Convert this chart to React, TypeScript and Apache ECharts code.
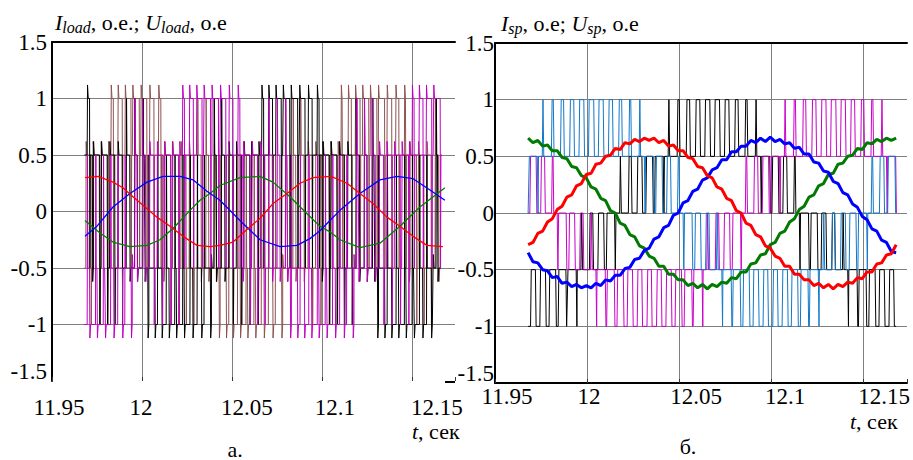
import React, { useEffect, useRef } from 'react';
import * as echarts from 'echarts';

// ---------------- axes ----------------
const X_MIN = 11.95;
const X_MAX = 12.1739;
const X_STEP = 0.05;
const X_TICK_LABELS = ['11.95', '12', '12.05', '12.1', '12.15'];
const Y_MIN = -1.5;
const Y_MAX = 1.5;
const Y_STEP = 0.5;

// ---------------- panel а: load currents, [t, value] ----------------
const loadRed = [
  [11.9683, 0.30], [11.9756, 0.31], [11.9839, 0.26], [11.9894, 0.21], [11.995, 0.13], [12.0017, 0.04],
  [12.0083, -0.05], [12.0156, -0.13], [12.0228, -0.22], [12.0306, -0.30], [12.0378, -0.31], [12.0433, -0.30],
  [12.0506, -0.27], [12.0583, -0.16], [12.0656, -0.06], [12.0728, 0.07], [12.0806, 0.16], [12.0878, 0.25],
  [12.095, 0.30], [12.105, 0.31], [12.1139, 0.25], [12.1211, 0.16], [12.1283, 0.07], [12.1361, -0.05],
  [12.1433, -0.13], [12.1506, -0.22], [12.1583, -0.30], [12.1672, -0.31],
];
const loadBlue = [
  [11.9683, -0.22], [11.975, -0.13], [11.9839, 0.04], [11.9933, 0.16], [12.0028, 0.26], [12.0117, 0.31],
  [12.0211, 0.31], [12.0283, 0.28], [12.0322, 0.23], [12.0361, 0.18], [12.0433, 0.10], [12.0544, -0.08],
  [12.0656, -0.25], [12.0767, -0.31], [12.0861, -0.30], [12.0933, -0.24], [12.0989, -0.17], [12.1044, -0.08],
  [12.11, 0.01], [12.1211, 0.16], [12.1322, 0.28], [12.1417, 0.31], [12.1506, 0.29], [12.16, 0.19], [12.1683, 0.10],
];
const loadGreen = [
  [11.9683, -0.08], [11.9767, -0.19], [11.9839, -0.27], [11.9933, -0.31], [12.0028, -0.30], [12.01, -0.25],
  [12.0172, -0.15], [12.0267, 0.01], [12.0322, 0.10], [12.0378, 0.16], [12.0433, 0.23], [12.0544, 0.30],
  [12.0656, 0.31], [12.0728, 0.26], [12.0822, 0.13], [12.0917, -0.02], [12.0989, -0.13], [12.1044, -0.18],
  [12.11, -0.25], [12.1211, -0.32], [12.1322, -0.28], [12.1433, -0.13], [12.1544, 0.04], [12.1683, 0.21],
];

// ---------------- panel а: load voltages, one entry per carrier period ----------------
const loadStart = 11.968;
const loadCarrier = 0.0044;
// zone code -> [lower level, upper level]
const loadLevels: Record<string, number[]> = { T: [0.5, 1], U: [-0.5, 0.5], L: [-0.5, 0.5], B: [-1, -0.5] };
// zone code -> [level briefly reached on the rising edge, on the falling edge]
const loadVia: Record<string, (number | null)[]> = { T: [null, -0.5], U: [null, -1], L: [1, null], B: [0.5, null] };
const loadBlackZones = 'TUUUULLLBBBBBBBBLLUUUUTTTTTTTTUUUULLLBBBBBBBL';
const loadBlackDuty = [
  0.3, 0.85, 0.75, 0.65, 0.55, 0.45, 0.35, 0.25, 0.8, 0.55, 0.35, 0.2, 0.2, 0.35, 0.55, 0.8,
  0.3, 0.42, 0.55, 0.65, 0.75, 0.85, 0.25, 0.5, 0.7, 0.85, 0.85, 0.7, 0.5, 0.25,
  0.85, 0.75, 0.65, 0.55, 0.45, 0.35, 0.25, 0.8, 0.55, 0.3, 0.2, 0.25, 0.4, 0.6, 0.2,
];
const loadBrownZones = 'UUUTTTTTTTUUUULLLBBBBBBBBLLLUUUUTTTTTTTTTUUUL';
const loadBrownDuty = [
  0.65, 0.75, 0.85, 0.3, 0.55, 0.75, 0.85, 0.75, 0.55, 0.3, 0.85, 0.75, 0.65, 0.55, 0.45, 0.35, 0.25,
  0.8, 0.55, 0.35, 0.2, 0.2, 0.35, 0.55, 0.8, 0.25, 0.35, 0.45, 0.55, 0.65, 0.75, 0.85,
  0.2, 0.4, 0.6, 0.8, 0.85, 0.8, 0.6, 0.4, 0.2, 0.85, 0.7, 0.55, 0.45,
];
const loadMagentaZones = 'BBBBBBLLUUUUTTTTTTTTUUULLLBBBBBBBBLLLUUUUTTTT';
const loadMagentaDuty = [
  0.3, 0.2, 0.25, 0.4, 0.6, 0.8, 0.3, 0.42, 0.55, 0.65, 0.75, 0.85,
  0.25, 0.5, 0.7, 0.85, 0.85, 0.7, 0.5, 0.25, 0.85, 0.7, 0.55, 0.45, 0.35, 0.25,
  0.8, 0.55, 0.35, 0.2, 0.2, 0.35, 0.55, 0.8, 0.25, 0.35, 0.45, 0.55, 0.65, 0.75, 0.85,
  0.25, 0.5, 0.7, 0.85,
];

// ---------------- panel б: converter currents, uniform samples ----------------
const spStart = 11.968;
const spSampleStep = 0.2 / 76;
const spRed = [
  -0.28, -0.26, -0.18, -0.16, -0.08, -0.05, 0.03, 0.06, 0.14, 0.16, 0.24, 0.26, 0.34, 0.35, 0.43, 0.44,
  0.50, 0.51, 0.57, 0.56, 0.62, 0.61, 0.65, 0.63, 0.66, 0.64, 0.66, 0.62, 0.64, 0.59, 0.60, 0.55, 0.55,
  0.49, 0.48, 0.41, 0.40, 0.33, 0.31, 0.23, 0.21, 0.13, 0.11, 0.02, 0.00, -0.09, -0.11, -0.19, -0.21,
  -0.29, -0.31, -0.38, -0.40, -0.47, -0.47, -0.54, -0.54, -0.59, -0.59, -0.64, -0.62, -0.66, -0.63,
  -0.67, -0.63, -0.65, -0.61, -0.62, -0.57, -0.58, -0.52, -0.52, -0.45, -0.44, -0.37, -0.36, -0.28,
];
const spBlue = [
  -0.35, -0.43, -0.44, -0.50, -0.51, -0.57, -0.56, -0.62, -0.61, -0.65, -0.63, -0.66, -0.64, -0.66,
  -0.62, -0.64, -0.59, -0.60, -0.55, -0.55, -0.49, -0.48, -0.41, -0.40, -0.33, -0.31, -0.23, -0.21,
  -0.13, -0.11, -0.02, 0.00, 0.09, 0.11, 0.19, 0.21, 0.29, 0.31, 0.38, 0.40, 0.47, 0.47, 0.54, 0.54,
  0.59, 0.59, 0.64, 0.62, 0.66, 0.63, 0.67, 0.63, 0.65, 0.61, 0.62, 0.57, 0.58, 0.52, 0.52, 0.45,
  0.44, 0.37, 0.36, 0.28, 0.26, 0.18, 0.16, 0.08, 0.05, -0.03, -0.06, -0.14, -0.16, -0.24, -0.26,
  -0.34, -0.35,
];
const spGreen = [
  0.66, 0.62, 0.64, 0.59, 0.60, 0.55, 0.55, 0.49, 0.48, 0.41, 0.40, 0.33, 0.31, 0.23, 0.21, 0.13, 0.11,
  0.02, 0.00, -0.09, -0.11, -0.19, -0.21, -0.29, -0.31, -0.38, -0.40, -0.47, -0.47, -0.54, -0.54, -0.59,
  -0.59, -0.64, -0.62, -0.66, -0.63, -0.67, -0.63, -0.65, -0.61, -0.62, -0.57, -0.58, -0.52, -0.52,
  -0.45, -0.44, -0.37, -0.36, -0.28, -0.26, -0.18, -0.16, -0.08, -0.05, 0.03, 0.06, 0.14, 0.16, 0.24,
  0.26, 0.34, 0.35, 0.43, 0.44, 0.50, 0.51, 0.57, 0.56, 0.62, 0.61, 0.65, 0.63, 0.66, 0.64, 0.66,
];

// ---------------- panel б: converter voltages, one entry per carrier period ----------------
const spCarrier = 0.2 / 38;
const spLevels: Record<string, number[]> = { T: [0.5, 1], P: [0, 0.5], N: [-0.5, 0], B: [-1, -0.5] };
const spVia: Record<string, (number | null)[]> = { T: [null, null], P: [null, null], N: [null, null], B: [null, null] };
const spBlueZones = 'PTTTTTTTTTTTPPPPNNNNBBBBBBBBBBNNNNNPPP';
const spBlueDuty = [
  0.9, 0.08, 0.2, 0.32, 0.42, 0.5, 0.54, 0.5, 0.42, 0.32, 0.2, 0.08, 0.9, 0.65, 0.4, 0.15,
  0.85, 0.6, 0.35, 0.1, 0.92, 0.78, 0.65, 0.55, 0.48, 0.48, 0.55, 0.65, 0.78, 0.92,
  0.1, 0.3, 0.5, 0.7, 0.9, 0.15, 0.45, 0.75,
];
const spBlackZones = 'BBBBBNNNNPPPPPTTTTTTTTTTPPPPNNNNNBBBBB';
const spBlackDuty = [
  0.5, 0.58, 0.68, 0.8, 0.92, 0.1, 0.35, 0.6, 0.85, 0.1, 0.3, 0.5, 0.7, 0.9,
  0.08, 0.22, 0.35, 0.45, 0.52, 0.52, 0.45, 0.35, 0.22, 0.08, 0.9, 0.65, 0.4, 0.15,
  0.9, 0.7, 0.5, 0.3, 0.1, 0.92, 0.78, 0.65, 0.55, 0.48,
];
const spMagentaZones = 'PPPNNNNBBBBBBBBBBBNNNNPPPPTTTTTTTTTTTP';
const spMagentaDuty = [
  0.65, 0.4, 0.15, 0.85, 0.6, 0.35, 0.1, 0.92, 0.78, 0.65, 0.55, 0.48, 0.45, 0.48, 0.55, 0.65, 0.78, 0.92,
  0.1, 0.35, 0.6, 0.85, 0.15, 0.4, 0.65, 0.9, 0.08, 0.2, 0.32, 0.42, 0.5, 0.54, 0.5, 0.42, 0.32, 0.2, 0.08, 0.9,
];

// ---------------- styles ----------------
const FONT = 'Liberation Serif';
const GRID_COLOR = '#7f7f7f';
const LEFT_LABEL_SHIFT = [7, -1, 15, 13, 25];
const RIGHT_LABEL_SHIFT = [12, 2, 17, 14, 21];

function pwmPoints(start: number, carrier: number, zones: string, duty: number[],
  levels: Record<string, number[]>, via: Record<string, (number | null)[]>, overshoot: number, edge: number) {
  const pts: number[][] = [];
  let cur = levels[zones[0]][0];
  pts.push([start, cur]);
  const step = (t: number, to: number, through: number | null) => {
    if (to === cur) return;
    const dir = to > cur ? 1 : -1;
    pts.push([t, cur]);
    if (through !== null) {
      pts.push([t + edge, through]);
      pts.push([t + edge * 2, to]);
      if (overshoot > 0) pts.push([t + edge * 4, to]);
    } else if (overshoot > 0) {
      pts.push([t + edge, to + overshoot * dir]);
      pts.push([t + edge * 3, to]);
    } else {
      pts.push([t + edge, to]);
    }
    cur = to;
  };
  for (let k = 0; k < zones.length; k++) {
    const z = zones[k];
    const [lo, hi] = levels[z];
    const [viaUp, viaDown] = via[z];
    const d = duty[k];
    const t0 = start + k * carrier;
    step(t0, lo, null);
    step(t0 + ((1 - d) / 2) * carrier, hi, viaUp);
    step(t0 + ((1 + d) / 2) * carrier, lo, viaDown);
  }
  pts.push([start + zones.length * carrier, cur]);
  return pts;
}

function sampled(values: number[]) {
  return values.map((v, i) => [spStart + i * spSampleStep, v]);
}

function xLabel(shifts: number[], margin: number) {
  const rich: Record<string, any> = {};
  shifts.forEach((s, i) => {
    rich['k' + i] = {
      fontFamily: FONT, fontSize: 23, color: '#000', lineHeight: 20,
      padding: s >= 0 ? [0, 0, 0, 2 * s] : [0, -2 * s, 0, 0],
    };
  });
  return {
    show: true,
    margin,
    fontFamily: FONT,
    fontSize: 23,
    lineHeight: 20,
    formatter: (v: number) => {
      const k = Math.round((v - X_MIN) / X_STEP);
      if (k < 0 || k >= X_TICK_LABELS.length || Math.abs(v - (X_MIN + X_STEP * k)) > 1e-6) return '';
      return `{k${k}|${X_TICK_LABELS[k]}}`;
    },
    rich,
  };
}

function yLabel(margin: number) {
  return {
    show: true, margin, fontFamily: FONT, fontSize: 23, color: '#000',
    formatter: (v: number) => (Math.abs(v - Y_MIN) < 1e-9 ? `{m|${v}}` : `{n|${v}}`),
    rich: {
      n: { fontFamily: FONT, fontSize: 23, color: '#000' },
      m: { fontFamily: FONT, fontSize: 23, color: '#000', padding: [0, 0, 20, 0] },
    },
  };
}

function line(data: number[][], color: string, width: number, xi: number, yi: number) {
  return {
    type: 'line', data, xAxisIndex: xi, yAxisIndex: yi, showSymbol: false, symbol: 'none',
    silent: true, lineStyle: { color, width }, itemStyle: { color }, animation: false,
  };
}

export default function App() {
  const ref = useRef<HTMLDivElement>(null);
  useEffect(() => {
    if (!ref.current) return;
    const chart = echarts.init(ref.current, undefined, { renderer: 'svg' });
    const splitLine = { show: true, showMinLine: false, showMaxLine: false, lineStyle: { color: GRID_COLOR, width: 1 } };
    const xBase = { type: 'value', min: X_MIN, max: X_MAX, interval: X_STEP };
    const yBase = { type: 'value', min: Y_MIN, max: Y_MAX, interval: Y_STEP };
    const mkRich = (lh: number) => ({
      i: { fontFamily: FONT, fontSize: 22, fontStyle: 'italic', color: '#000', lineHeight: lh, verticalAlign: 'middle' },
      s: { fontFamily: FONT, fontSize: 16, fontStyle: 'italic', color: '#000', lineHeight: lh, verticalAlign: 'bottom' },
      n: { fontFamily: FONT, fontSize: 22, color: '#000', lineHeight: lh, verticalAlign: 'middle' },
    });
    const txt = (x: number, y: number, text: string, align = 'left', rich?: any) => ({
      type: 'text', x, y, silent: true,
      style: { text, rich, fontFamily: FONT, fontSize: 22, fill: '#000', align, verticalAlign: 'middle' },
    });

    chart.setOption({
      animation: false,
      backgroundColor: '#ffffff',
      textStyle: { fontFamily: FONT },
      grid: [
        { left: 52, top: 42, width: 403, height: 339, outerBoundsMode: 'none' },
        { left: 495, top: 43, width: 412, height: 340, outerBoundsMode: 'none' },
      ],
      xAxis: [
        { ...xBase, gridIndex: 0, position: 'bottom',
          axisLine: { show: false, onZero: false },
          axisTick: { show: true, inside: true, length: 4, lineStyle: { color: '#333' } },
          axisLabel: xLabel(LEFT_LABEL_SHIFT, 16), splitLine },
        { ...xBase, gridIndex: 0, position: 'top',
          axisLine: { show: true, onZero: false, lineStyle: { color: '#000', width: 2 } },
          axisTick: { show: false }, axisLabel: { show: false }, splitLine: { show: false } },
        { ...xBase, gridIndex: 1, position: 'bottom',
          axisLine: { show: true, onZero: false, lineStyle: { color: '#000', width: 2 } },
          axisTick: { show: true, inside: true, length: 4, lineStyle: { color: '#333' } },
          axisLabel: xLabel(RIGHT_LABEL_SHIFT, 3), splitLine },
        { ...xBase, gridIndex: 1, position: 'top',
          axisLine: { show: true, onZero: false, lineStyle: { color: '#000', width: 2 } },
          axisTick: { show: false }, axisLabel: { show: false }, splitLine: { show: false } },
      ],
      yAxis: [
        { ...yBase, gridIndex: 0, position: 'left',
          axisLine: { show: true, onZero: false, lineStyle: { color: '#000', width: 2 } },
          axisTick: { show: false }, axisLabel: yLabel(5), splitLine },
        { ...yBase, gridIndex: 1, position: 'left',
          axisLine: { show: true, onZero: false, lineStyle: { color: '#000', width: 2 } },
          axisTick: { show: false }, axisLabel: yLabel(1), splitLine },
      ],
      series: [
        line(pwmPoints(loadStart, loadCarrier, loadBrownZones, loadBrownDuty, loadLevels, loadVia, 0.12, 0.0002), '#8e5252', 1, 0, 0),
        line(pwmPoints(loadStart, loadCarrier, loadBlackZones, loadBlackDuty, loadLevels, loadVia, 0.12, 0.0002), '#000000', 1, 0, 0),
        line(pwmPoints(loadStart, loadCarrier, loadMagentaZones, loadMagentaDuty, loadLevels, loadVia, 0.12, 0.0002), '#c000c0', 1, 0, 0),
        line(loadGreen, '#008000', 1.3, 0, 0),
        line(loadBlue, '#0000ff', 1.3, 0, 0),
        line(loadRed, '#ff0000', 1.3, 0, 0),
        line(pwmPoints(spStart, spCarrier, spBlackZones, spBlackDuty, spLevels, spVia, 0, 0.0004), '#000000', 1, 2, 1),
        line(pwmPoints(spStart, spCarrier, spMagentaZones, spMagentaDuty, spLevels, spVia, 0, 0.0004), '#c800c8', 1, 2, 1),
        line(pwmPoints(spStart, spCarrier, spBlueZones, spBlueDuty, spLevels, spVia, 0, 0.0004), '#1278c8', 1, 2, 1),
        line(sampled(spGreen), '#007a00', 3, 2, 1),
        line(sampled(spBlue), '#0000ff', 3, 2, 1),
        line(sampled(spRed), '#ff0000', 3, 2, 1),
      ],
      graphic: [
        txt(55, 22, '{i|I}{s|load}{n|, о.е.; }{i|U}{s|load}{n|, о.е}', 'left', mkRich(26)),
        txt(501, 23, '{i|I}{s|sp}{n|, о.е; }{i|U}{s|sp}{n|, о.е}', 'left', mkRich(26)),
        txt(412, 431, '{i|t}{n|, сек}', 'left', mkRich(18)),
        txt(850, 421, '{i|t}{n|, сек}', 'left', mkRich(18)),
        txt(235, 449, 'а.', 'center'),
        txt(688, 446, 'б.', 'center'),
        { type: 'line', silent: true, shape: { x1: 445, y1: 382, x2: 455, y2: 382 }, style: { stroke: '#000', lineWidth: 2 } },
      ],
    });
    return () => chart.dispose();
  }, []);
  return (
    <div style={{ position: 'fixed', left: 0, top: 0, width: 913, height: 460, background: '#fff' }}>
      <div ref={ref} style={{ width: 913, height: 460 }} />
    </div>
  );
}
